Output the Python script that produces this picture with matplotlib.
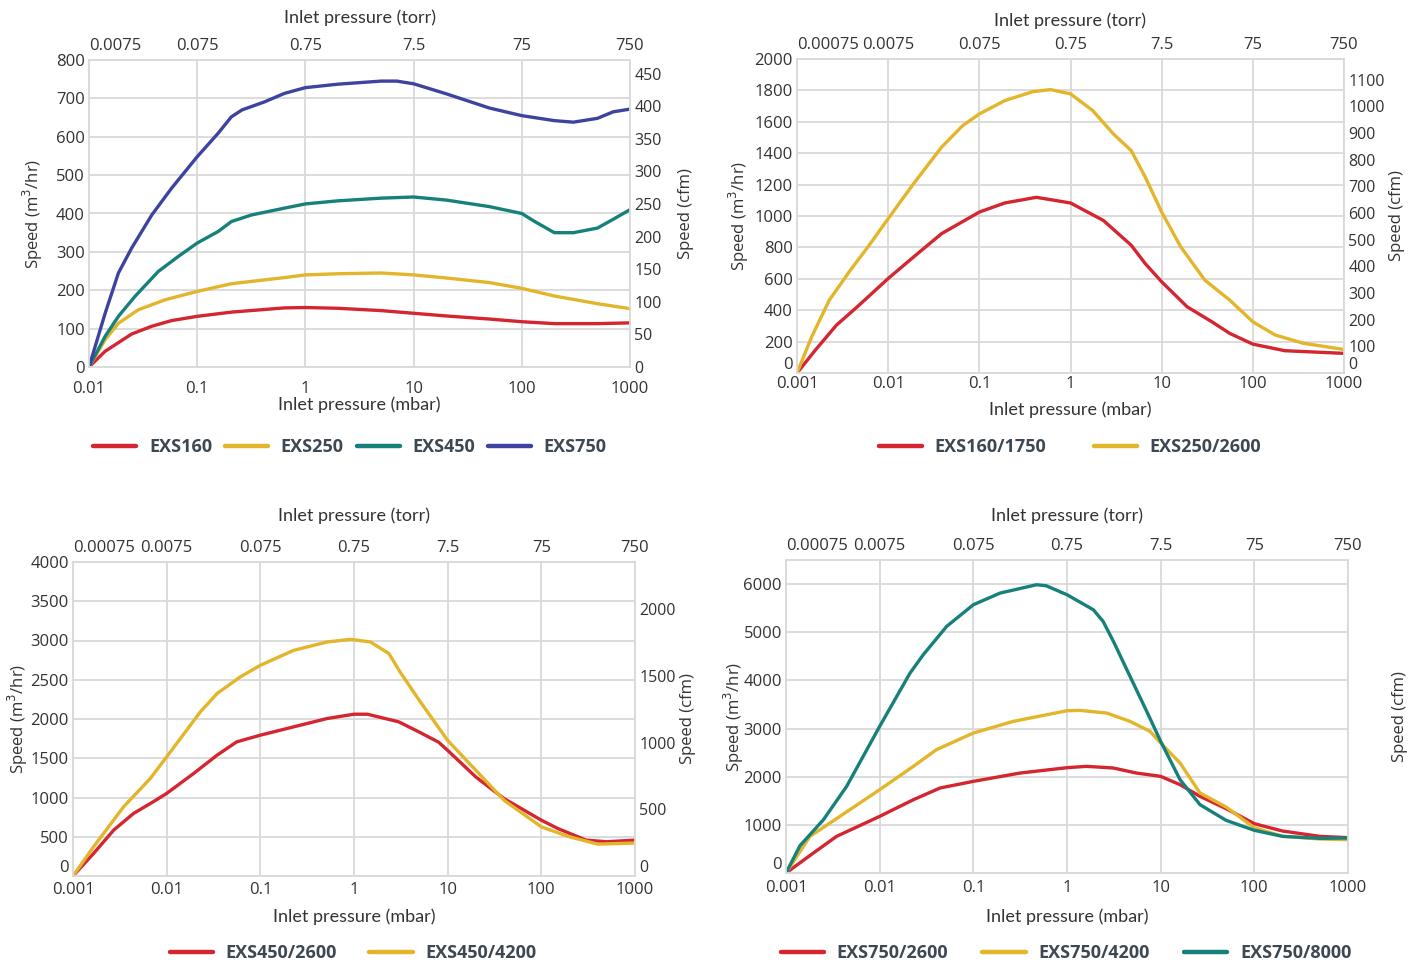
import matplotlib
matplotlib.use("Agg")
import matplotlib.pyplot as plt

# colours
RED = "#d42530"
YELLOW = "#e3b52a"
TEAL = "#16807a"
BLUE = "#3f43a0"
GRID = "#d9d9d9"
TXT = "#333333"
LEG = "#3e4852"

CFM = 0.5886   # m3/hr -> cfm
TORR = 0.75    # mbar -> torr

# ---- panel 1: EXS160 / 250 / 450 / 750 (x in mbar, y in m3/hr) ----
exs160_x = [0.01, 0.0141, 0.0248, 0.0379, 0.058, 0.1, 0.207, 0.64, 1, 2, 5, 10, 20, 50, 100, 200, 500, 1000]
exs160_y = [0, 41, 86, 106, 121, 132, 143, 154, 155, 153, 147, 140, 133, 125, 118, 113, 113, 115]
exs250_x = [0.01, 0.0141, 0.0187, 0.0285, 0.0503, 0.1, 0.207, 0.64, 1, 2, 5, 10, 20, 50, 100, 200, 500, 1000]
exs250_y = [0, 71, 114, 149, 175, 197, 217, 233, 240, 243, 245, 240, 232, 220, 205, 185, 165, 152]
exs450_x = [0.01, 0.0141, 0.0187, 0.0266, 0.0437, 0.0668, 0.1, 0.156, 0.207, 0.316, 0.64, 1, 2, 5, 10,
            20, 50, 100, 130, 200, 300, 500, 700, 1000]
exs450_y = [0, 80, 132, 184, 249, 288, 323, 353, 379, 396, 414, 425, 433, 440, 443,
            435, 418, 400, 380, 350, 350, 362, 385, 410]
exs750_x = [0.01, 0.0141, 0.0187, 0.0248, 0.038, 0.058, 0.1, 0.156, 0.207, 0.26, 0.42, 0.64, 1, 2, 5, 7,
            10, 20, 50, 100, 200, 300, 500, 700, 1000]
exs750_y = [0, 140, 245, 310, 396, 466, 548, 609, 652, 670, 691, 713, 728, 737, 745, 745,
            738, 712, 675, 655, 642, 638, 648, 665, 672]

# ---- panel 2: EXS160/1750, EXS250/2600 ----
exs160_1750_x = [0.001, 0.00159, 0.00271, 0.00459, 0.01, 0.019, 0.0386, 0.1, 0.19, 0.422, 1, 2.29, 4.63,
                 6.6, 10, 19, 35.6, 55.9, 100, 224, 1000]
exs160_1750_y = [0, 146, 305, 422, 602, 739, 888, 1025, 1083, 1119, 1083, 972, 814,
                 697, 581, 422, 326, 252, 184, 142, 125]
exs250_2600_x = [0.001, 0.00145, 0.00226, 0.00385, 0.006, 0.01, 0.019, 0.0386, 0.0657, 0.1, 0.19, 0.387,
                 0.6, 1, 1.75, 2.95, 4.63, 6.6, 10, 16.2, 29.8, 55.9, 100, 176, 360, 1000]
exs250_2600_y = [0, 231, 464, 655, 803, 983, 1206, 1439, 1576, 1650, 1735, 1792,
                 1805, 1778, 1672, 1523, 1417, 1248, 1025, 803, 591, 464, 326, 242, 189, 150]

# ---- panel 3: EXS450/2600, EXS450/4200 ----
exs450_2600_x = [0.001, 0.00166, 0.00272, 0.00443, 0.0072, 0.01, 0.0194, 0.0345, 0.056, 0.1, 0.227, 0.516,
                 1, 1.39, 3.0, 5, 8, 10, 20, 40, 100, 150, 300, 500, 1000]
exs450_2600_y = [0, 288, 585, 797, 946, 1052, 1306, 1539, 1709, 1794, 1900, 2006,
                 2061, 2061, 1964, 1832, 1705, 1600, 1261, 986, 711, 605, 457, 436, 457]
exs450_4200_x = [0.001, 0.00166, 0.00347, 0.00669, 0.01, 0.0229, 0.0345, 0.061, 0.1, 0.227, 0.516, 0.92,
                 1.5, 2.36, 3.1, 5, 10, 20, 40, 100, 200, 400, 1000]
exs450_4200_y = [0, 373, 882, 1243, 1518, 2091, 2324, 2536, 2684, 2875, 2981, 3015,
                 2981, 2833, 2600, 2234, 1727, 1346, 965, 626, 499, 406, 420]

# ---- panel 4: EXS750/2600, EXS750/4200, EXS750/8000 ----
exs750_2600_x = [0.001, 0.00196, 0.00347, 0.01, 0.0229, 0.0441, 0.1, 0.316, 1, 1.61, 3.13, 5.5, 10, 16.1,
                 26.3, 50, 100, 200, 500, 1000]
exs750_2600_y = [0, 415, 761, 1176, 1522, 1765, 1903, 2076, 2187, 2215, 2180, 2076, 2007, 1834,
                 1592, 1336, 1024, 872, 761, 734]
exs750_4200_x = [0.001, 0.0018, 0.00295, 0.01, 0.0229, 0.0404, 0.1, 0.267, 1, 1.37, 2.65, 4.7, 7.7, 10,
                 16.1, 26.3, 50, 100, 200, 500, 1000]
exs750_4200_y = [0, 761, 1038, 1730, 2215, 2561, 2907, 3149, 3370, 3377, 3322, 3149, 2941, 2700,
                 2284, 1661, 1370, 940, 761, 706, 692]
exs750_8000_x = [0.001, 0.00141, 0.00251, 0.00444, 0.01, 0.0211, 0.0292, 0.0519, 0.1, 0.193, 0.472, 0.6,
                 1, 1.91, 2.43, 3.13, 4.71, 7.1, 10, 16.1, 26.3, 50, 100, 200, 500, 1000]
exs750_8000_y = [0, 567, 1107, 1799, 3045, 4152, 4533, 5121, 5571, 5813, 5986, 5965,
                 5779, 5467, 5225, 4810, 4083, 3356, 2734, 1938, 1419, 1093, 886, 761, 720, 727]

TICKF = ["Open Sans", "DejaVu Sans"]
NARROW = ["Lato", "DejaVu Sans"]

plt.rcParams["font.family"] = TICKF
plt.rcParams["text.color"] = TXT

W, H = 1408, 968
fig = plt.figure(figsize=(W / 100, H / 100), dpi=100)


def fmt(v):
    return "%g" % v


def draw_panel(box, series, xmin, ylim, yticks, cfm_ticks, leg_x, leg_y, colspace,
               ylab_x, cfm_x, mbar_y, torr_y, xpad=3, raise_zero=False):
    # box in pixels: left, top, right, bottom
    l, t, r, b = box
    ax = fig.add_axes([l / W, 1 - b / H, (r - l) / W, (b - t) / H])
    for xs, ys, col, lab in series:
        ax.plot(xs, ys, color=col, lw=2.4, label=lab, solid_capstyle="round",
                solid_joinstyle="round")
    ax.set_xscale("log")
    ax.set_xlim(xmin, 1000)
    ax.set_ylim(0, ylim)
    xt = [xmin * 10 ** i for i in range(7) if xmin * 10 ** i <= 1000]
    ax.set_xticks(xt)
    ax.set_xticklabels([fmt(v) for v in xt])
    ax.minorticks_off()
    ax.set_yticks(yticks)
    ax.set_yticklabels([fmt(v) for v in yticks])
    ax.grid(True, color=GRID, lw=1.3)
    ax.set_axisbelow(True)
    for s in ax.spines.values():
        s.set_color(GRID)
        s.set_linewidth(1.3)
    ax.tick_params(length=0, labelsize=12, colors=TXT)
    ax.tick_params(axis="x", pad=xpad)
    ax.tick_params(axis="y", pad=3)
    if raise_zero:
        ax.get_yticklabels()[0].set_verticalalignment("bottom")

    top = ax.secondary_xaxis("top", functions=(lambda x: x * TORR, lambda x: x / TORR))
    tt = [v * TORR for v in xt]
    top.set_xticks(tt)
    top.set_xticklabels([fmt(v) for v in tt])
    top.minorticks_off()
    top.tick_params(length=0, labelsize=12, colors=TXT, pad=4)
    top.spines["top"].set_visible(False)
    top.get_xticklabels()[0].set_horizontalalignment("left")

    right = ax.secondary_yaxis("right", functions=(lambda y: y * CFM, lambda y: y / CFM))
    right.spines["right"].set_visible(False)
    right.set_yticks(cfm_ticks)
    right.set_yticklabels([fmt(v) for v in cfm_ticks])
    right.minorticks_off()
    right.tick_params(length=0, labelsize=11.5, colors=TXT, pad=3)
    if raise_zero and cfm_ticks:
        right.get_yticklabels()[0].set_verticalalignment("bottom")

    # axis titles placed in figure pixels
    cy = 1 - (t + b) / 2 / H
    cx = (l + r) / 2 / W
    fig.text(ylab_x / W, cy, "Speed (m$^3$/hr)", rotation=90, ha="center", va="center",
             fontsize=12, color=TXT)
    fig.text(cfm_x / W, cy, "Speed (cfm)", rotation=90, ha="center", va="center",
             fontsize=12, color=TXT)
    fig.text(cx, 1 - mbar_y / H, "Inlet pressure (mbar)", ha="center", va="center",
             fontsize=13, color=TXT, family=NARROW)
    fig.text(cx, 1 - torr_y / H, "Inlet pressure (torr)", ha="center", va="center",
             fontsize=13, color=TXT, family=NARROW)

    leg = ax.legend(loc="center", bbox_to_anchor=(leg_x / W, 1 - leg_y / H),
                    bbox_transform=fig.transFigure, ncol=len(series), frameon=False,
                    handlelength=2.4, handletextpad=0.7, columnspacing=colspace,
                    prop={"family": TICKF, "weight": "bold", "size": 13})
    for tx in leg.get_texts():
        tx.set_color(LEG)
    for h in leg.get_lines():
        h.set_linewidth(3.2)
    return ax


draw_panel((89, 60, 630, 367),
           [(exs160_x, exs160_y, RED, "EXS160"), (exs250_x, exs250_y, YELLOW, "EXS250"),
            (exs450_x, exs450_y, TEAL, "EXS450"), (exs750_x, exs750_y, BLUE, "EXS750")],
           0.01, 800, range(0, 801, 100), range(0, 451, 50), 350, 447, 0.7,
           ylab_x=33, cfm_x=686, mbar_y=405, torr_y=18, xpad=10)

draw_panel((797, 59, 1344, 373),
           [(exs160_1750_x, exs160_1750_y, RED, "EXS160/1750"),
            (exs250_2600_x, exs250_2600_y, YELLOW, "EXS250/2600")],
           0.001, 2000, range(0, 2001, 200), range(0, 1101, 100), 1070, 447, 2.6,
           ylab_x=739, cfm_x=1397, mbar_y=410, torr_y=21, xpad=2, raise_zero=True)

draw_panel((73, 562, 635, 876),
           [(exs450_2600_x, exs450_2600_y, RED, "EXS450/2600"),
            (exs450_4200_x, exs450_4200_y, YELLOW, "EXS450/4200")],
           0.001, 4000, range(0, 4001, 500), range(0, 2001, 500), 353, 953, 1.8,
           ylab_x=18, cfm_x=688, mbar_y=917, torr_y=516, xpad=4, raise_zero=True)

draw_panel((786, 560, 1348, 873),
           [(exs750_2600_x, exs750_2600_y, RED, "EXS750/2600"),
            (exs750_4200_x, exs750_4200_y, YELLOW, "EXS750/4200"),
            (exs750_8000_x, exs750_8000_y, TEAL, "EXS750/8000")],
           0.001, 6500, range(0, 6001, 1000), [], 1066, 953, 1.9,
           ylab_x=734, cfm_x=1400, mbar_y=917, torr_y=516, xpad=5, raise_zero=True)

fig.savefig("out.png", dpi=100, facecolor="white")
